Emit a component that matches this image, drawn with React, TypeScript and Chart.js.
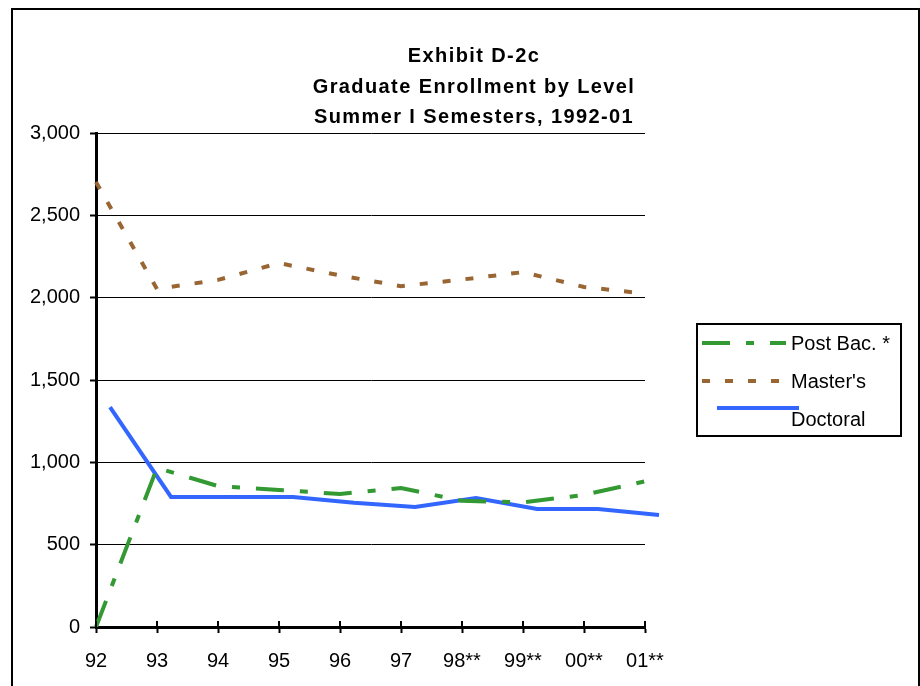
import React, { useEffect, useRef } from 'react';
import { Chart, registerables } from 'chart.js';

Chart.register(...registerables);

const categories = ['92', '93', '94', '95', '96', '97', '98**', '99**', '00**', '01**'];
const postBacValues = [0, 966, 856, 832, 808, 844, 766, 757, 802, 885];
const mastersValues = [2702, 2053, 2108, 2210, 2135, 2070, 2110, 2155, 2065, 2025];
const doctoralValues = [1336, 790, 790, 790, 755, 729, 783, 717, 717, 680];
const seriesNames = ['Post Bac. *', "Master's", 'Doctoral'];
const titleLines = ['Exhibit D-2c', 'Graduate Enrollment by Level', 'Summer I Semesters, 1992-01'];
const yMin = 0;
const yMax = 3000;
const yStep = 500;

const FONT = "'Liberation Sans', Arial, Helvetica, sans-serif";

const decorPlugin = {
  id: 'decor',
  beforeDraw(chart: any) {
    const ctx = chart.ctx;
    ctx.save();
    ctx.fillStyle = '#ffffff';
    ctx.fillRect(0, 0, chart.width, chart.height);
    ctx.restore();
  },
  afterDraw(chart: any) {
    const ctx = chart.ctx;
    ctx.save();
    // outer frame
    ctx.strokeStyle = '#000';
    ctx.lineWidth = 2;
    ctx.setLineDash([]);
    ctx.strokeRect(12, 9, 907, 720);

    // title
    ctx.fillStyle = '#000';
    ctx.font = `bold 20px ${FONT}`;
    (ctx as any).letterSpacing = '1.4px';
    ctx.textAlign = 'center';
    ctx.textBaseline = 'alphabetic';
    titleLines.forEach((t, i) => ctx.fillText(t, 474, 62 + i * 30.5));
    (ctx as any).letterSpacing = '0px';

    // x tick marks crossing the axis (upper half)
    const xs = chart.scales.x;
    ctx.lineWidth = 2;
    ctx.strokeStyle = '#000';
    categories.forEach((_, i) => {
      const px = Math.round(xs.getPixelForValue(i));
      ctx.beginPath();
      ctx.moveTo(px, xs.top);
      ctx.lineTo(px, xs.top - 6);
      ctx.stroke();
    });

    // legend
    ctx.lineWidth = 2;
    ctx.strokeRect(697, 324, 204, 112);
    const sampleY = [343, 381, 408];
    const sampleX = [[702, 786], [702, 786], [717, 799]];
    const textY = [344, 382, 420];
    chart.data.datasets.forEach((ds: any, i: number) => {
      ctx.save();
      ctx.strokeStyle = ds.borderColor;
      ctx.lineWidth = ds.borderWidth;
      ctx.lineCap = 'butt';
      ctx.setLineDash(ds.borderDash || []);
      ctx.beginPath();
      ctx.moveTo(sampleX[i][0], sampleY[i]);
      ctx.lineTo(sampleX[i][1], sampleY[i]);
      ctx.stroke();
      ctx.restore();
      ctx.fillStyle = '#000';
      ctx.font = `20px ${FONT}`;
      ctx.textAlign = 'left';
      ctx.textBaseline = 'middle';
      ctx.fillText(ds.label, 791, textY[i]);
    });
    ctx.restore();
  },
};

export default function App() {
  const canvasRef = useRef<HTMLCanvasElement | null>(null);

  useEffect(() => {
    if (!canvasRef.current) return;
    const chart = new Chart(canvasRef.current, {
      type: 'line',
      data: {
        labels: categories,
        datasets: [
          {
            label: seriesNames[0],
            data: postBacValues,
            borderColor: '#339933',
            borderWidth: 4,
            borderDash: [28, 16, 8, 16],
            pointRadius: 0,
            tension: 0,
            fill: false,
            xAxisID: 'x',
          },
          {
            label: seriesNames[1],
            data: mastersValues,
            borderColor: '#996633',
            borderWidth: 4,
            borderDash: [8, 15],
            pointRadius: 0,
            tension: 0,
            fill: false,
            xAxisID: 'x',
          },
          {
            label: seriesNames[2],
            data: doctoralValues.map((v, i) => ({ x: i, y: v })),
            borderColor: '#3366FF',
            borderWidth: 4,
            pointRadius: 0,
            tension: 0,
            fill: false,
            xAxisID: 'x2',
            clip: false,
          } as any,
        ],
      },
      options: {
        responsive: false,
        animation: false,
        devicePixelRatio: 1,
        layout: { padding: { top: 133, right: 275, left: 0, bottom: 0 } },
        plugins: {
          legend: { display: false },
          title: { display: false },
          tooltip: { enabled: false },
        },
        scales: {
          x: {
            type: 'category',
            offset: false,
            grid: {
              drawOnChartArea: false,
              drawTicks: true,
              tickLength: 6,
              tickWidth: 2,
              color: '#000',
            },
            border: { color: '#000', width: 3 },
            ticks: {
              font: { size: 20, family: FONT },
              color: '#000',
              padding: 16,
              maxRotation: 0,
              autoSkip: false,
            },
            afterFit: (s: any) => {
              s.height = 59;
            },
          },
          x2: {
            type: 'linear',
            display: false,
            min: -0.23,
            max: 8.77,
          },
          y: {
            min: yMin,
            max: yMax,
            ticks: {
              stepSize: yStep,
              font: { size: 20, family: FONT },
              color: '#000',
              padding: 10,
              callback: (v: any) => Number(v).toLocaleString('en-US'),
            },
            grid: {
              color: '#000',
              lineWidth: 1,
              drawTicks: true,
              tickLength: 6,
              tickWidth: 2,
            },
            border: { color: '#000', width: 3 },
            afterFit: (s: any) => {
              s.width = 96;
            },
          },
        },
      } as any,
      plugins: [decorPlugin],
    });
    return () => chart.destroy();
  }, []);

  return (
    <div style={{ position: 'fixed', left: 0, top: 0, width: 920, height: 686, background: '#fff' }}>
      <canvas ref={canvasRef} width={920} height={686} style={{ display: 'block', width: 920, height: 686 }} />
    </div>
  );
}
